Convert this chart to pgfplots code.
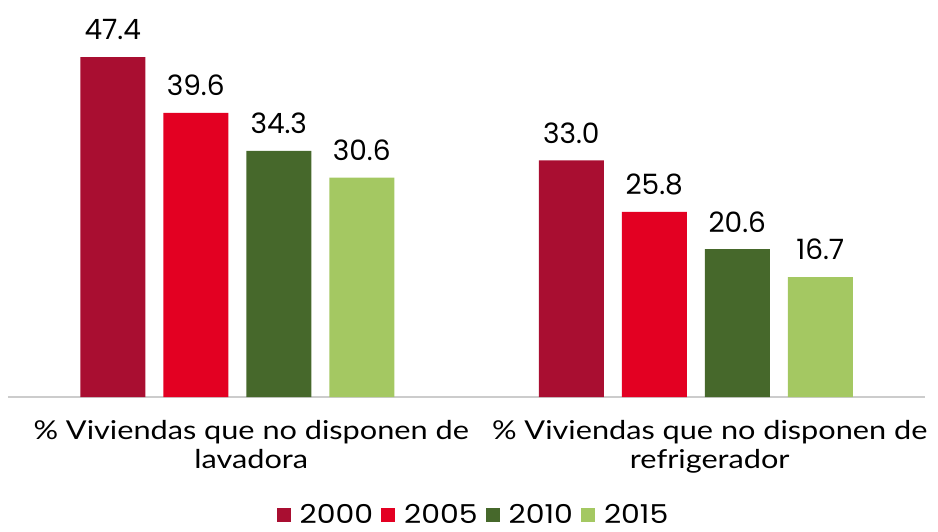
\documentclass[border=0pt]{standalone}
\usepackage{pgfplots}
\pgfplotsset{compat=1.18}
\usepackage{fontspec}
\setmainfont{Poppins}
\newfontfamily\labelfont[FakeStretch=1.18]{Lato}
\newfontfamily\legfont[FakeStretch=1.15]{Poppins}
\definecolor{c2000}{HTML}{A90E31}
\definecolor{c2005}{HTML}{E30022}
\definecolor{c2010}{HTML}{46682B}
\definecolor{c2015}{HTML}{A4C862}
\begin{document}
\begin{tikzpicture}
\pgfplotsset{sq/.style={legend image code/.code={\fill[##1] (0pt,-3.5pt) rectangle (7pt,3.5pt);}}}
\begin{axis}[
  at={(0,0)}, anchor=south west,
  width=458.5pt, height=196pt, scale only axis,
  ybar=9pt, bar width=32.5pt,
  xmin=-0.5, xmax=1.5, ymin=0, ymax=54.65,
  axis x line=bottom, axis y line=none,
  axis line style={draw=black!20, line width=1pt, -},
  xtick={0,1}, major tick length=0pt, ytick=\empty,
  xticklabels={{\% Viviendas que no disponen de\\lavadora},{\% Viviendas que no disponen de\\refrigerador}},
  xticklabel style={align=center, font=\labelfont\fontsize{13}{14.5}\selectfont, yshift=-8pt, xshift=7pt},
  nodes near coords,
  every node near coord/.append style={font=\fontsize{14}{16}\selectfont, black, yshift=5pt},
  /pgf/number format/.cd, fixed, fixed zerofill, precision=1, assume math mode=true, /pgfplots/.cd,
  legend columns=4,
  legend style={at={(axis description cs:0.5,0)}, anchor=center, yshift=-59pt, xshift=4pt,
    draw=none, font=\legfont\fontsize{13}{14}\selectfont, inner sep=0pt,
    /tikz/every odd column/.append style={column sep=2.5pt},
    /tikz/every even column/.append style={column sep=2pt}},
]
\addplot[fill=c2000, draw=none, sq] coordinates {(0,47.4) (1,33.0)};
\addplot[fill=c2005, draw=none, sq] coordinates {(0,39.6) (1,25.8)};
\addplot[fill=c2010, draw=none, sq] coordinates {(0,34.3) (1,20.6)};
\addplot[fill=c2015, draw=none, sq] coordinates {(0,30.6) (1,16.7)};
\legend{2000,2005,2010,2015}
\end{axis}
\pgfresetboundingbox
\path (-4pt,-67pt) rectangle (465pt,198.5pt);
\end{tikzpicture}
\end{document}
